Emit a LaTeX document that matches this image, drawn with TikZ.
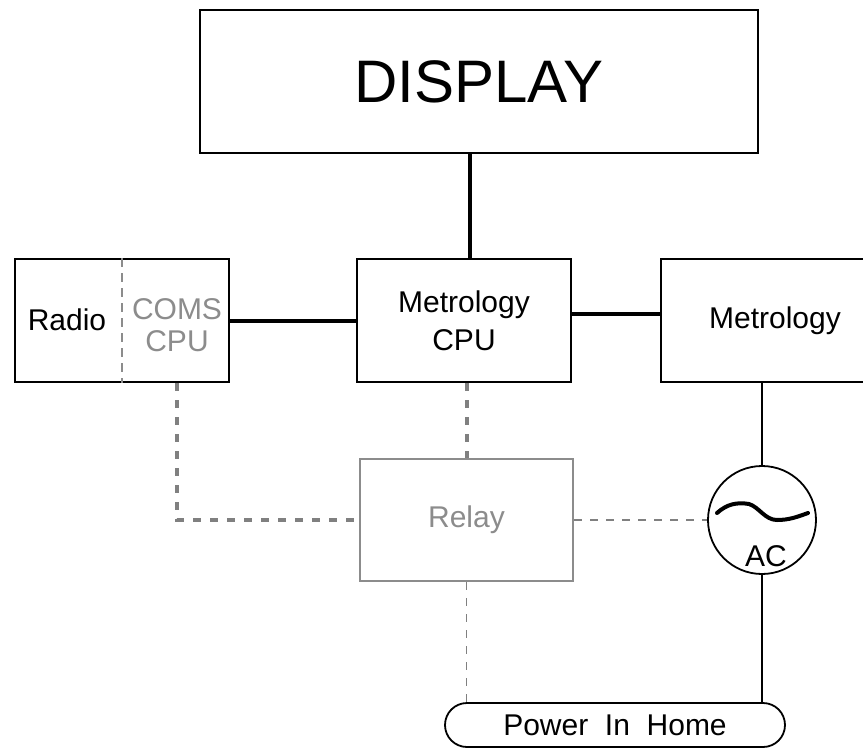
\documentclass[tikz,border=0pt]{standalone}
\usepackage{fontspec}
\setmainfont{Liberation Sans}
\usetikzlibrary{calc, positioning}
\definecolor{SoftGray}{HTML}{8C8C8C}
\definecolor{LineGray}{HTML}{808080}

\begin{document}
\begin{tikzpicture}[x=1pt, y=-1pt,
    unit/.style={draw=black, line width=2pt, inner sep=0pt, align=center,
                 minimum width=214pt, minimum height=123pt,
                 font=\fontsize{30}{38}\selectfont},
    ghost/.style={unit, draw=SoftGray, text=SoftGray},
    lbl/.style={inner sep=0pt, align=center, font=\fontsize{30}{32}\selectfont},
    bus/.style={line width=4pt},
    wire/.style={line width=2pt},
    ctrl/.style={draw=LineGray, line width=4pt, dash pattern=on 8pt off 9pt},
    sense/.style={draw=LineGray, line width=1.8pt, dash pattern=on 8pt off 8pt},
    divider/.style={draw=SoftGray, line width=1.8pt, dash pattern=on 9pt off 6pt}]

  \useasboundingbox (0,0) rectangle (863,748);
  \clip (0,0) rectangle (863,748);

  % Display on top
  \node[unit, minimum width=558pt, minimum height=143pt,
        font=\fontsize{60}{62}\selectfont] (display) at (479,81.5) {DISPLAY};

  % Row of processor boxes
  \node[unit] (radio) at (122,320.5) {};
  \node[lbl] (radiotxt) at (67,320) {Radio};
  \node[lbl, text=SoftGray] (coms) at (177,325) {COMS\\CPU};
  \node[unit] (metcpu) at (464,320.5) {Metrology\\CPU};
  \node[unit, minimum width=228pt] (metro) at (775,320.5) {Metrology};

  % Relay, AC source and home supply
  \node[ghost, minimum width=213pt, minimum height=122pt] (relay) at (466.5,520) {Relay};
  \node[circle, draw, line width=1.8pt, minimum size=108pt, inner sep=0pt] (ac) at (762,520) {};
  \node[lbl] (actxt) at (766,556) {AC};
  \node[draw, line width=1.8pt, rounded corners=22pt, minimum width=340pt,
        minimum height=44pt, inner sep=0pt, font=\fontsize{30}{32}\selectfont]
        (power) at (615,725) {Power\ \ In\ \ Home};

  % Sine mark
  \begin{scope}[shift={(ac.center)}]
    \draw[line width=4pt, line cap=round] (-45,-7) .. controls (-35,-16) and (-25,-18) .. (-13,-16)
      .. controls (-3,-13) and (3,0) .. (15,0) .. controls (27,0) and (35,-3) .. (46,-7);
  \end{scope}

  % Connections
  \draw[divider] (radio.north) -- (radio.south);
  \draw[bus] ([xshift=6pt]metcpu.north) -- ([xshift=6pt]metcpu.north |- display.south);
  \draw[bus] (radio.east) -- (metcpu.west);
  \draw[bus] ([yshift=7pt]metcpu.east) -- ([yshift=7pt]metro.west);
  \draw[wire] (ac.north) -- (ac.north |- metro.south);
  \draw[wire] (ac.south) -- (ac.south |- power.north);
  \draw[ctrl] (relay.north |- metcpu.south) -- (relay.north);
  \draw[ctrl] (coms |- radio.south) |- (relay.west);
  \draw[sense] (relay.east) -- (ac.west);
  \draw[sense] (relay.south) -- (relay.south |- power.north);
\end{tikzpicture}
\end{document}
